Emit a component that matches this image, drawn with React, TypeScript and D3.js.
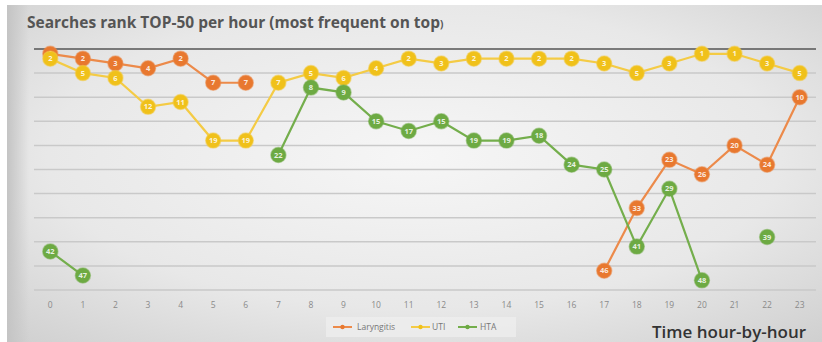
import React from "react";
import * as d3 from "d3";

const hours: number[] = d3.range(0, 24);
const laryngitis: (number | null)[] = [1, 2, 3, 4, 2, 7, 7, null, null, null, null, null, null, null, null, null, null, 46, 33, 23, 26, 20, 24, 10];
const uti: (number | null)[] = [2, 5, 6, 12, 11, 19, 19, 7, 5, 6, 4, 2, 3, 2, 2, 2, 2, 3, 5, 3, 1, 1, 3, 5];
const hta: (number | null)[] = [42, 47, null, null, null, null, null, 22, 8, 9, 15, 17, 15, 19, 19, 18, 24, 25, 41, 29, 48, null, 39, null];
const gridTicks: number[] = [5, 10, 15, 20, 25, 30, 35, 40, 45, 50];

const seriesList = [
  { name: "Laryngitis", values: laryngitis, color: "#E8782F", line: "#EC8A4A" },
  { name: "UTI", values: uti, color: "#F0C11A", line: "#F4CB45" },
  { name: "HTA", values: hta, color: "#6DAA43", line: "#74AE4C" },
];

export default function App() {
  const W = 822, H = 342;
  const x = d3.scaleBand<number>().domain(hours).range([34, 816]);
  const cx = (h: number) => (x(h) as number) + x.bandwidth() / 2;
  const y = d3.scaleLinear().domain([0, 50]).range([49, 290]);
  const line = d3
    .line<number | null>()
    .defined((d) => d !== null)
    .x((_, i) => cx(i))
    .y((d) => y(d as number));

  return (
    <svg width={W} height={H} style={{ position: "absolute", left: 0, top: 0 }} fontFamily="'Open Sans', sans-serif">
      <defs>
        <radialGradient id="bg" cx="0.5" cy="0.45" r="0.75">
          <stop offset="0" stopColor="#f6f6f6" />
          <stop offset="0.6" stopColor="#e8e8e8" />
          <stop offset="1" stopColor="#cfcfcf" />
        </radialGradient>
        <linearGradient id="leftEdge" x1="0" x2="1">
          <stop offset="0" stopColor="#c4c4c4" stopOpacity="1" />
          <stop offset="1" stopColor="#c4c4c4" stopOpacity="0" />
        </linearGradient>
      </defs>
      <rect x={0} y={0} width={W} height={H} fill="#ffffff" />
      <rect x={7} y={5} width={W - 7} height={H - 5} fill="url(#bg)" />
      <rect x={7} y={5} width={22} height={H - 5} fill="url(#leftEdge)" />
      <text x={27} y={28} fontSize={15.5} fontWeight={700} fill="#555">
        Searches rank TOP-50 per hour (most frequent on top<tspan fontSize={10}>)</tspan>
      </text>
      {gridTicks.map((t) => (
        <line key={t} x1={34} x2={816} y1={y(t)} y2={y(t)} stroke="#c9c9c9" strokeWidth={1.5} />
      ))}
      <line x1={34} x2={816} y1={y(0)} y2={y(0)} stroke="#555" strokeWidth={1.3} />
      {hours.map((h) => (
        <text key={h} x={cx(h)} y={308} fontSize={8.5} fill="#8a8a8a" textAnchor="middle">
          {h}
        </text>
      ))}
      {seriesList.map((s) => (
        <path key={s.name} d={line(s.values) || ""} fill="none" stroke={s.line} strokeWidth={2.2} />
      ))}
      {seriesList.map((s) =>
        s.values.map((v, i) =>
          v === null ? null : (
            <g key={s.name + i}>
              <circle cx={cx(i)} cy={y(v)} r={7.5} fill={s.color} stroke={s.line} strokeOpacity={0.5} strokeWidth={1.5} />
              <text x={cx(i)} y={y(v) + 2.6} fontSize={7.5} fontWeight={700} fill="#fff" fillOpacity={0.85} textAnchor="middle">
                {v}
              </text>
            </g>
          )
        )
      )}
      <rect x={326} y={317} width={190} height={20} fill="#efefef" opacity={0.7} />
      {[
        { s: seriesList[0], lx: 333, tx: 357 },
        { s: seriesList[1], lx: 411, tx: 432 },
        { s: seriesList[2], lx: 458, tx: 480 },
      ].map(({ s, lx, tx }) => (
        <g key={s.name}>
          <line x1={lx} x2={lx + 19} y1={327} y2={327} stroke={s.line} strokeWidth={2} />
          <circle cx={lx + 9.5} cy={327} r={2.2} fill={s.color} />
          <text x={tx} y={330} fontSize={8.5} fill="#777">
            {s.name}
          </text>
        </g>
      ))}
      <text x={652} y={338} fontSize={17} fontWeight={600} fill="#333">
        Time hour-by-hour
      </text>
    </svg>
  );
}
